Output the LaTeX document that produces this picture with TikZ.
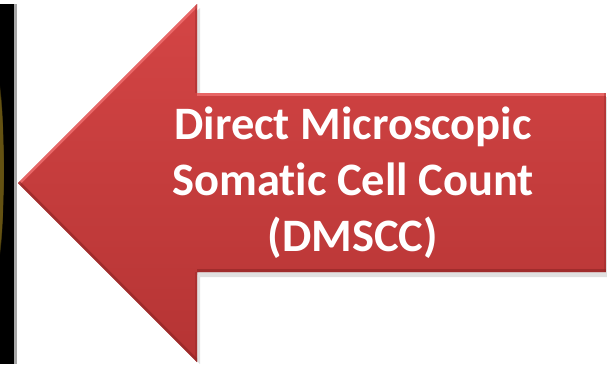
\documentclass[tikz,border=0pt]{standalone}
\usepackage{fontspec}
\setmainfont[Ligatures={NoCommon}]{Carlito}
\usetikzlibrary{shadings,fadings}
\definecolor{arrowtop}{HTML}{D44545}
\definecolor{arrowbot}{HTML}{B53434}
\definecolor{bevellight}{HTML}{F07070}
\definecolor{beveldark}{HTML}{8E2424}
\definecolor{glow}{HTML}{A88A1E}
\tikzset{
  label text/.style={text=white, font=\bfseries\fontsize{46.5}{56}\selectfont, align=center, inner sep=0pt},
}
\begin{document}
\begin{tikzpicture}[x=1pt,y=-1pt]
\useasboundingbox (0,0) rectangle (607,364);
\fill[white] (0,0) rectangle (607,364);
% left dark strip
\fill[black] (0,4) rectangle (14,364);
\fill[gray!70] (14,4) rectangle (17,364);
\begin{scope}
\clip (0,4) rectangle (14,364);
\fill[glow, opacity=0.6, path fading=circle with fuzzy edge 15 percent] (-3,170) ellipse (7 and 95);
\end{scope}
% shadow
\fill[black, opacity=0.12] (21,186) -- (200,8) -- (200,97) -- (607,97) -- (607,277) -- (200,277) -- (200,364) -- cycle;
% arrow body
\path[top color=arrowtop, bottom color=arrowbot] (18,183) coordinate (tip) -- (197,4) coordinate (ht) -- (197,93) coordinate (it) -- (606,93) coordinate (rt) -- (606,272) coordinate (rb) -- (197,272) coordinate (ib) -- (197,362) coordinate (hb) -- cycle;
\begin{scope}
\clip (tip) -- (ht) -- (it) -- (rt) -- (rb) -- (ib) -- (hb) -- cycle;
\draw[bevellight, line width=5, opacity=0.8] (tip) -- (ht);
\draw[bevellight, line width=6, opacity=0.8] (it) -- (rt);
\draw[beveldark, line width=5, opacity=0.6] (tip) -- (hb);
\draw[beveldark, line width=6, opacity=0.6] (ib) -- (rb);
\draw[beveldark, line width=4, opacity=0.35] (ht) -- (it);
\draw[beveldark, line width=4, opacity=0.35] (ib) -- (hb);
\draw[beveldark, line width=4, opacity=0.35] (rt) -- (rb);
\end{scope}
\node[label text] (txt) at (353,183) {Direct Microscopic\\Somatic Cell Count\\(DMSCC)};
\end{tikzpicture}
\end{document}
